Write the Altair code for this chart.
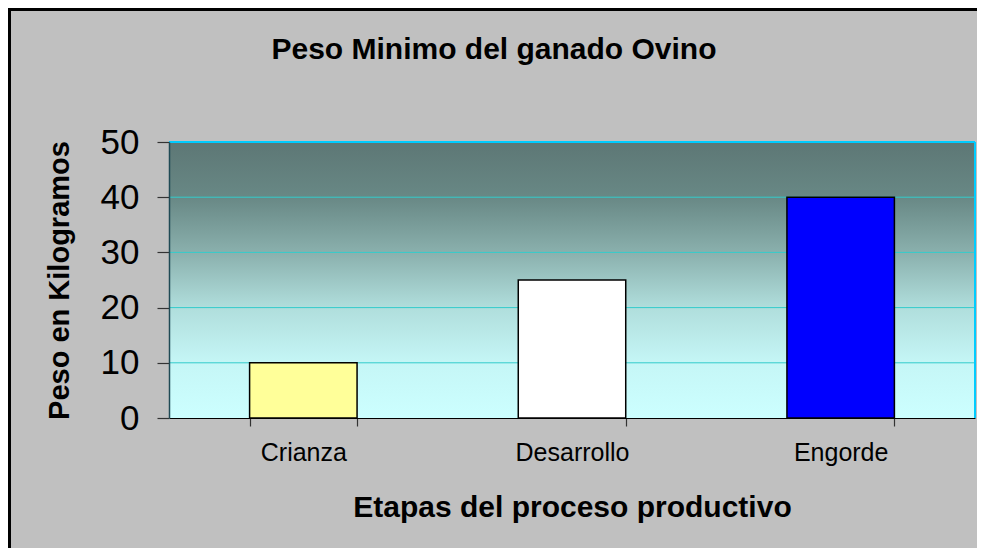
import altair as alt
import pandas as pd

# ---- data ----
categories = ["Crianza", "Desarrollo", "Engorde"]
values = [10, 25, 40]
bar_colors = ["#FFFF99", "#FFFFFF", "#0000FF"]
y_ticks = [0, 10, 20, 30, 40, 50]
grid_values = [10, 20, 30, 40]

title_text = "Peso Minimo del ganado Ovino"
y_title = "Peso en Kilogramos"
x_title = "Etapas del proceso productivo"

df = pd.DataFrame({"etapa": categories, "peso": values, "color": bar_colors})
grid_df = pd.DataFrame({"peso": grid_values})
one = pd.DataFrame({"k": [0]})

W, H = 806, 276
PAD = {"left": 161, "top": 134, "right": 2, "bottom": 130}
FONT = "Liberation Sans"

gradient = {
    "gradient": "linear",
    "x1": 0, "y1": 0, "x2": 0, "y2": 1,
    "stops": [
        {"offset": 0.0, "color": "#5D7775"},
        {"offset": 0.2, "color": "#688885"},
        {"offset": 0.4, "color": "#8AB0AD"},
        {"offset": 0.6, "color": "#B0DEDC"},
        {"offset": 0.8, "color": "#C5F6F6"},
        {"offset": 1.0, "color": "#CCFFFF"},
    ],
}

y_scale = alt.Scale(domain=[0, 50], nice=False)

bg = alt.Chart(one).mark_rect(fill=gradient, strokeWidth=0).encode(
    x=alt.value(0), x2=alt.value(W), y=alt.value(0), y2=alt.value(H)
)

grid = alt.Chart(grid_df).mark_rule(color="#33CCCC", strokeWidth=1).encode(
    y=alt.Y("peso:Q", scale=y_scale),
    x=alt.value(0),
    x2=alt.value(W),
)

bars = alt.Chart(df).mark_bar(stroke="black", strokeWidth=1.5).encode(
    x=alt.X(
        "etapa:N",
        sort=categories,
        scale=alt.Scale(paddingInner=0.6, paddingOuter=0.3),
        axis=alt.Axis(
            title=x_title,
            labelAngle=0,
            tickBand="extent",
            tickSize=8,
            tickColor="#333333",
            tickWidth=1.2,
            domainColor="#000000",
            domainWidth=1.2,
            labelFont=FONT,
            labelFontSize=25,
            labelColor="black",
            labelPadding=14,
            titleFont=FONT,
            titleFontSize=30,
            titleFontWeight="bold",
            titleColor="black",
            titlePadding=27,
            zindex=1,
        ),
    ),
    y=alt.Y(
        "peso:Q",
        scale=y_scale,
        axis=alt.Axis(
            title=y_title,
            values=y_ticks,
            grid=False,
            domainColor="#1F4A55",
            domainWidth=1.5,
            tickColor="#333333",
            tickSize=12,
            tickWidth=1.2,
            labelFont=FONT,
            labelFontSize=35,
            labelColor="black",
            labelPadding=18,
            titleFont=FONT,
            titleFontSize=29,
            titleFontWeight="bold",
            titleColor="black",
            titlePadding=26,
            zindex=1,
        ),
    ),
    color=alt.Color("color:N", scale=None, legend=None),
)

cyan_top = alt.Chart(one).mark_rule(color="#00CCFF", strokeWidth=2).encode(
    y=alt.value(0), x=alt.value(0), x2=alt.value(W)
)
cyan_right = alt.Chart(one).mark_rule(color="#00CCFF", strokeWidth=2).encode(
    x=alt.value(W), y=alt.value(0), y2=alt.value(H)
)

left_border = alt.Chart(one).mark_rule(color="black", strokeWidth=3).encode(
    x=alt.value(-PAD["left"] + 1.5),
    y=alt.value(-PAD["top"]),
    y2=alt.value(H + PAD["bottom"]),
)
top_border = alt.Chart(one).mark_rule(color="black", strokeWidth=3).encode(
    y=alt.value(-PAD["top"] + 1.5),
    x=alt.value(-PAD["left"]),
    x2=alt.value(W + PAD["right"]),
)

title = alt.Chart(one).mark_text(
    text=title_text,
    font=FONT,
    fontSize=30,
    fontWeight="bold",
    color="black",
    align="center",
    baseline="alphabetic",
).encode(x=alt.value(325), y=alt.value(-83))

chart = (
    alt.layer(bg, grid, bars, cyan_top, cyan_right, left_border, top_border, title)
    .properties(
        width=W,
        height=H,
        autosize=alt.AutoSizeParams(type="none"),
        padding=PAD,
        background="#C0C0C0",
    )
    .configure_view(strokeWidth=0)
    .configure(font=FONT)
)

chart.save("out.html", embed_options={"renderer": "svg", "actions": False})
